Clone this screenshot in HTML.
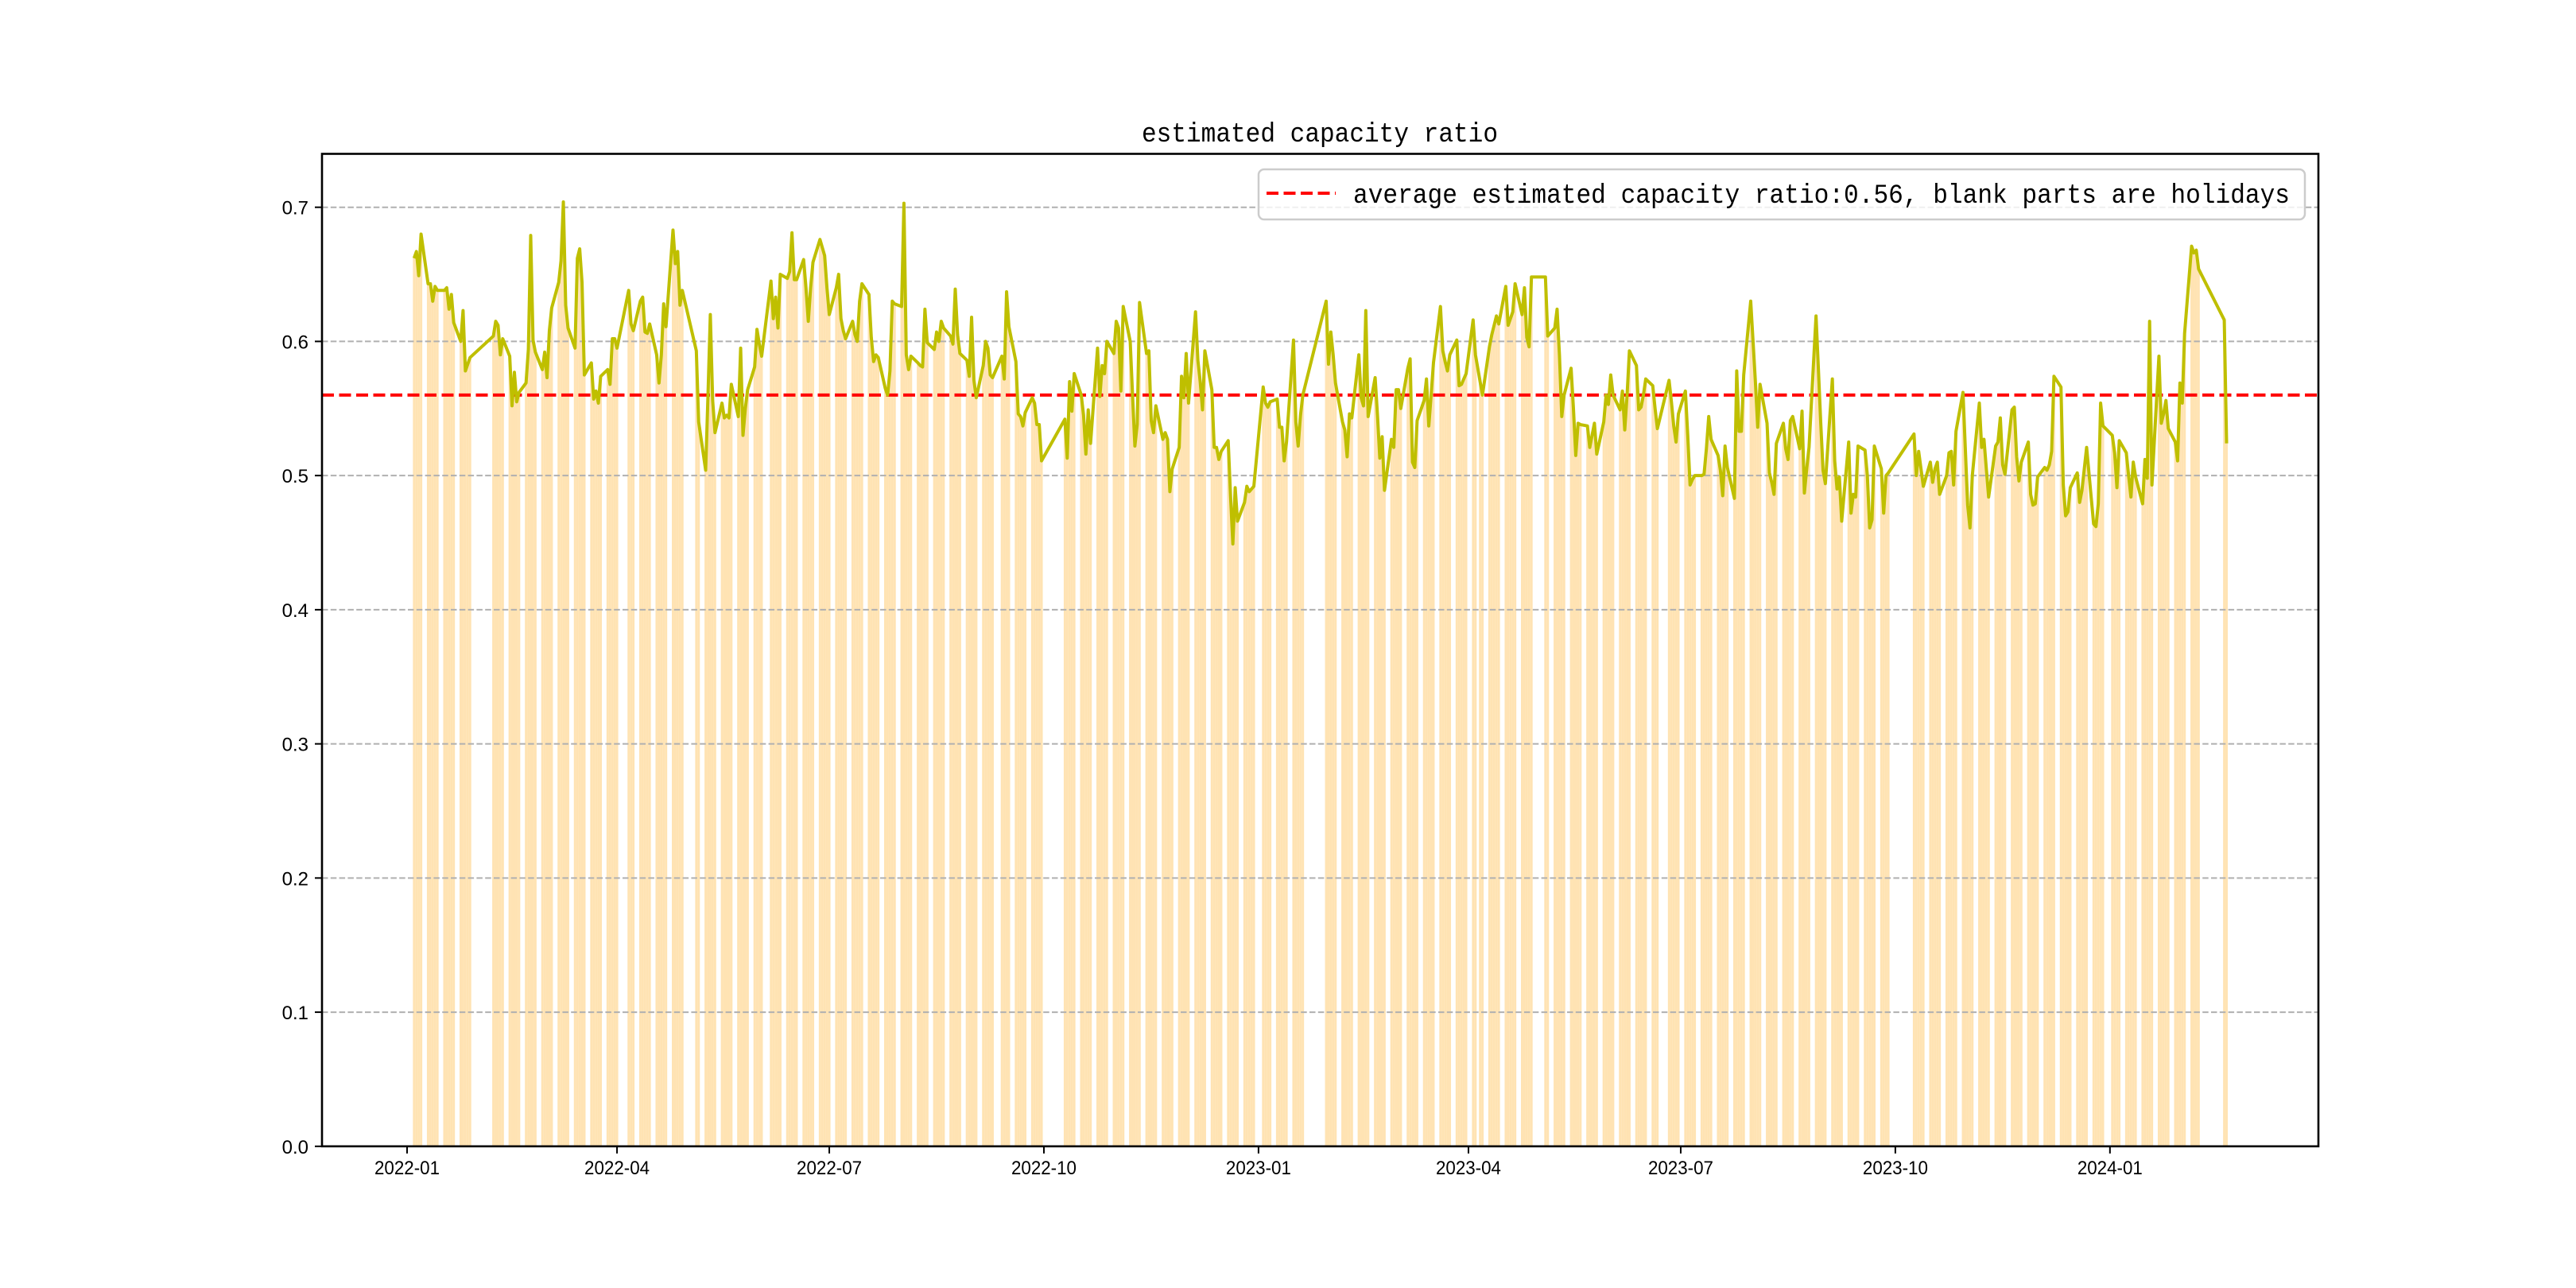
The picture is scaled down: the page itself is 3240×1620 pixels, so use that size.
<!DOCTYPE html>
<html>
<head>
<meta charset="utf-8">
<style>
  html, body { margin: 0; padding: 0; background: #ffffff; }
  svg { display: block; }
  text { font-family: "Liberation Sans", "Noto Sans CJK SC", sans-serif; fill: #000; }
  .mono { font-family: "Liberation Mono", "Noto Sans CJK SC", monospace; }
</style>
</head>
<body>
<svg id="chart" width="3240" height="1620" viewBox="0 0 3240 1620" xmlns="http://www.w3.org/2000/svg">
  <rect x="0" y="0" width="3240" height="1620" fill="#ffffff"/>
  <text class="mono" x="1660" y="178" font-size="34" text-anchor="middle" textLength="448" lengthAdjust="spacingAndGlyphs">estimated capacity ratio</text>
  <g id="bars"></g>
  <g id="grid"></g>
  <g id="avg"></g>
  <g id="line"></g>
  <rect x="405" y="193.5" width="2511" height="1248.3" fill="none" stroke="#000" stroke-width="2.6"/>
  <g id="yticks"></g>
  <g id="xticks"></g>
  <g>
    <rect x="1583" y="213" width="1316" height="63" rx="7" ry="7" fill="rgba(255,255,255,0.8)" stroke="#cccccc" stroke-width="2.5"/>
    <line x1="1593" y1="243" x2="1680" y2="243" stroke="#ff0000" stroke-width="4" stroke-dasharray="15 6.5"/>
    <text class="mono" x="1702" y="255" font-size="34" textLength="1178" lengthAdjust="spacingAndGlyphs">average estimated capacity ratio:0.56, blank parts are holidays</text>
  </g>
</svg>
<script>
// ---- data ----
const holidays = [
  "2022-01-03","2022-01-31","2022-02-01","2022-02-02","2022-02-03","2022-02-04",
  "2022-04-04","2022-04-05","2022-05-02","2022-05-03","2022-05-04","2022-06-03",
  "2022-09-12","2022-10-03","2022-10-04","2022-10-05","2022-10-06","2022-10-07",
  "2023-01-02","2023-01-23","2023-01-24","2023-01-25","2023-01-26","2023-01-27",
  "2023-04-05","2023-05-01","2023-05-02","2023-05-03","2023-06-22","2023-06-23",
  "2023-09-29","2023-10-02","2023-10-03","2023-10-04","2023-10-05","2023-10-06",
  "2024-01-01","2024-02-09","2024-02-12","2024-02-13","2024-02-14","2024-02-15","2024-02-16"
];
const startDate = "2022-01-04";
const endDate = "2024-02-20";
const ratioValues = [
  // 2022
  .662,.667,.649,.680,
  .643,.643,.630,.641,.638,
  .638,.640,.624,.635,.614,
  .600,.623,.578,.583,.588,
  .604,.615,.612,.590,.602,
  .589,.552,.577,.555,.562,
  .569,.594,.679,.601,.592,
  .579,.592,.573,.608,.625,
  .644,.660,.704,.627,.610,
  .595,.662,.669,.644,.575,
  .584,.557,.563,.554,.574,
  .579,.568,.602,.602,.595,
  .638,.613,.608,
  .630,.633,.607,.606,.613,
  .590,.569,.590,.628,.611,
  .683,.658,.667,.627,.638,
  .593,.540,
  .504,.560,.620,.556,.532,
  .554,.543,.545,.543,.568,
  .544,.595,.530,.550,.564,
  .581,.609,.598,.589,
  .645,.617,.633,.610,.650,
  .647,.652,.681,.646,.646,
  .661,.640,.615,.640,.659,
  .676,.670,.664,.640,.620,
  .640,.650,.617,.608,.602,
  .615,.605,.600,.630,.643,
  .635,.603,.585,.590,.588,
  .565,.560,.578,.630,.628,
  .626,.703,.590,.579,.589,
  .584,.582,.581,.624,.599,
  .594,.607,.600,.615,.610,
  .604,.598,.639,.605,.591,
  .586,.574,.618,.571,.558,
  .582,.600,.595,.575,.573,
  .589,.572,.637,.611,
  .585,.546,.544,.537,.547,
  .558,.554,.538,.538,.511,
  .542,.513,.570,.548,.576,
  .560,.545,.516,.549,.524,
  .595,.559,.582,.576,.600,
  .591,.615,.610,.563,.626,
  .600,.560,.522,.538,.629,
  .591,.593,.541,.532,.552,
  .527,.532,.527,.488,.505,
  .521,.574,.558,.591,.554,
  .622,.586,.570,.549,.593,
  .564,.521,.521,.512,.518,
  .526,.485,.449,.491,.466,
  .480,.492,.488,.490,.492,
  // 2023
  .566,.554,.551,.555,
  .557,.536,.536,.511,.525,
  .601,.540,.522,.545,.560,
  .630,.583,.607,.590,.569,
  .540,.534,.514,.546,.543,
  .590,.558,.552,.623,.544,
  .573,.545,.513,.529,.489,
  .527,.521,.564,.564,.550,
  .580,.587,.510,.506,.541,
  .556,.572,.537,.560,.584,
  .626,.593,.585,.578,.590,
  .601,.567,.568,.572,.576,
  .616,.590,.570,.560,
  .596,.605,.612,.619,.613,
  .641,.612,.617,.622,.643,
  .620,.640,.603,.596,.648,
  .648,.604,
  .610,.624,.590,.544,.560,
  .580,.550,.515,.539,.538,
  .537,.521,.530,.539,.516,
  .540,.560,.553,.575,.560,
  .549,.563,.534,.560,.593,
  .582,.549,.551,.560,.572,
  .567,.550,.535,
  .571,.555,.537,.525,.546,
  .563,.530,.493,.497,.500,
  .500,.501,.520,.544,.527,
  .515,.504,.485,.522,.506,
  .483,.578,.533,.533,.575,
  .630,.600,.570,.536,.568,
  .539,.502,.495,.486,.524,
  .539,.520,.512,.541,.544,
  .520,.548,.487,.505,.521,
  .619,.580,.540,.504,.494,
  .572,.511,.490,.499,.466,
  .525,.472,.486,.484,.522,
  .519,.500,.461,.467,.522,
  .505,.472,.500,.502,
  .531,.500,.518,.505,.492,
  .510,.495,.505,.510,.486,
  .500,.517,.518,.493,.533,
  .562,.520,.478,.461,.500,
  .554,.521,.527,.505,.484,
  .522,.525,.543,.508,.501,
  .549,.551,.514,.496,.510,
  .525,.486,.478,.479,.499,
  .506,.504,.508,.518,.574,
  .566,.493,.470,.473,.491,
  .502,.480,.489,.505,.521,
  .464,.462,.479,.554,.537,
  // 2024
  .530,.517,.491,.526,
  .517,.500,.484,.510,.499,
  .479,.512,.498,.615,.493,
  .589,.539,.546,.556,.535,
  .525,.511,.569,.554,.606,
  .671,.666,.668,.654,
  .616,.524
];
const averageValue = [0.56];
const yTickValues = [0.0, 0.1, 0.2, 0.3, 0.4, 0.5, 0.6, 0.7];
const xTickLabels = ["2022-01","2022-04","2022-07","2022-10","2023-01","2023-04","2023-07","2023-10","2024-01"];

// ---- scales ----
const NS = "http://www.w3.org/2000/svg";
const AX_L = 405, AX_R = 2916, AX_T = 193.5, AX_B = 1441.8;
const ORIGIN = Date.UTC(2022, 0, 1);
const PX_PER_DAY = 2.934, X0 = 512;
const PX_PER_UNIT = 1687.3;
function dayOf(str) { const p = str.split("-").map(Number); return (Date.UTC(p[0], p[1] - 1, p[2] || 1) - ORIGIN) / 86400000; }
function xScale(day) { return X0 + day * PX_PER_DAY; }
function yScale(v) { return AX_B - v * PX_PER_UNIT; }
function mk(tag, attrs, parent) {
  const el = document.createElementNS(NS, tag);
  for (const k in attrs) el.setAttribute(k, attrs[k]);
  parent.appendChild(el);
  return el;
}

// trading calendar
const holidaySet = new Set(holidays);
const tradingDays = [];
for (let d = dayOf(startDate); d <= dayOf(endDate); d++) {
  const dt = new Date(ORIGIN + d * 86400000);
  const wd = dt.getUTCDay();
  const iso = dt.toISOString().slice(0, 10);
  if (wd === 0 || wd === 6 || holidaySet.has(iso)) continue;
  tradingDays.push(d);
}
const n = Math.min(tradingDays.length, ratioValues.length);

// bars
const barsG = document.getElementById("bars");
for (let i = 0; i < n; i++) {
  const x = xScale(tradingDays[i]);
  const y = yScale(ratioValues[i]);
  const r = mk("rect", { x: (x - PX_PER_DAY * 0.5).toFixed(2), y: y.toFixed(2), width: (PX_PER_DAY + 0.05).toFixed(2), height: (AX_B - y).toFixed(2), fill: "#ffe3b3" }, barsG);
  
  
}

// grid
const gridG = document.getElementById("grid");
yTickValues.forEach(v => {
  if (v === 0) return;
  const gy = yScale(v);
  const g = mk("line", { x1: AX_L, x2: AX_R, y1: gy, y2: gy, stroke: "#b0b0b0", "stroke-width": 2, "stroke-dasharray": "7.5 3.3" }, gridG);
  
  
});

// average line
const avgG = document.getElementById("avg");
const ay = yScale(averageValue[0]);
const avgLine = mk("line", { x1: AX_L, x2: AX_R, y1: ay, y2: ay, stroke: "#ff0000", "stroke-width": 4, "stroke-dasharray": "15 6.5" }, avgG);



// data line
const lineG = document.getElementById("line");
let dpath = "";
for (let i = 0; i < n; i++) {
  dpath += (i ? "L" : "M") + xScale(tradingDays[i]).toFixed(2) + "," + yScale(ratioValues[i]).toFixed(2);
}
const pl = mk("path", { d: dpath, fill: "none", stroke: "#bfbf00", "stroke-width": 4, "stroke-linejoin": "round" }, lineG);



// y ticks
const yG = document.getElementById("yticks");
yTickValues.forEach(v => {
  const ty = yScale(v);
  const tk = mk("line", { x1: AX_L - 9, x2: AX_L, y1: ty, y2: ty, stroke: "#000", "stroke-width": 2 }, yG);
  
  
  const t = mk("text", { x: AX_L - 17, y: ty + 9, "font-size": 24, "text-anchor": "end" }, yG);
  t.textContent = v.toFixed(1);
  
  
});

// x ticks
const xG = document.getElementById("xticks");
xTickLabels.forEach(lbl => {
  const tx = xScale(dayOf(lbl + "-01"));
  const tk = mk("line", { x1: tx, x2: tx, y1: AX_B, y2: AX_B + 9, stroke: "#000", "stroke-width": 2 }, xG);
  
  
  const t = mk("text", { x: tx, y: AX_B + 35, "font-size": 24, "text-anchor": "middle", textLength: 82, lengthAdjust: "spacingAndGlyphs" }, xG);
  t.textContent = lbl;
  
  
});
</script>
</body>
</html>
